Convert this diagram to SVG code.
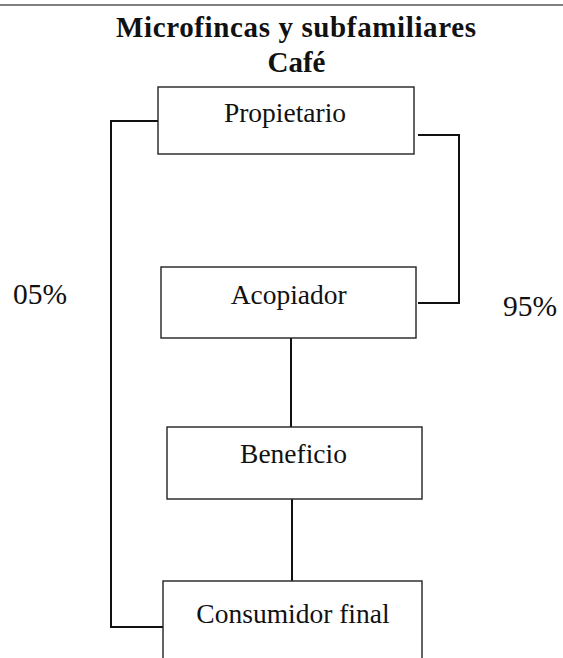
<svg xmlns="http://www.w3.org/2000/svg" width="563" height="658" viewBox="0 0 563 658">
<style>
.box{fill:#fff;stroke:#222;stroke-width:1.4}
.lbl{font-family:"Liberation Serif","Times New Roman",serif;font-size:27.5px;fill:#111;text-anchor:middle}
.pct{font-family:"Liberation Serif","Times New Roman",serif;font-size:29.5px;fill:#111}
.title{font-family:"Liberation Serif","Times New Roman",serif;font-size:29px;font-weight:bold;fill:#111;text-anchor:middle}
.conn{fill:none;stroke:#111;stroke-width:2}
</style>
<rect width="563" height="658" fill="#fff"/>
<line x1="0" y1="5" x2="563" y2="5" stroke="#555" stroke-width="1.6"/>
<g id="title">
<text class="title" x="296" y="37" textLength="360" lengthAdjust="spacing">Microfincas y subfamiliares</text>
<text class="title" x="296.5" y="72">Café</text>
</g>
<g id="connectors">
<path class="conn" d="M158,121 H111 V627 H163"/>
<path class="conn" d="M418,135 H459 V303 H418"/>
<path class="conn" d="M291,338 V427"/>
<path class="conn" d="M292,499 V581"/>
</g>
<g id="propietario">
<rect class="box" x="158" y="87" width="256" height="67"/>
<text class="lbl" x="285" y="122">Propietario</text>
</g>
<g id="acopiador">
<rect class="box" x="161" y="267" width="255" height="71"/>
<text class="lbl" x="288.7" y="304">Acopiador</text>
</g>
<g id="beneficio">
<rect class="box" x="167" y="427" width="255" height="72"/>
<text class="lbl" x="293.5" y="463">Beneficio</text>
</g>
<g id="consumidor">
<rect class="box" x="163" y="581" width="259" height="100"/>
<text class="lbl" x="293" y="623">Consumidor final</text>
</g>
<g id="pct05"><text class="pct" x="13" y="304">05%</text></g>
<g id="pct95"><text class="pct" x="503" y="316">95%</text></g>
</svg>
